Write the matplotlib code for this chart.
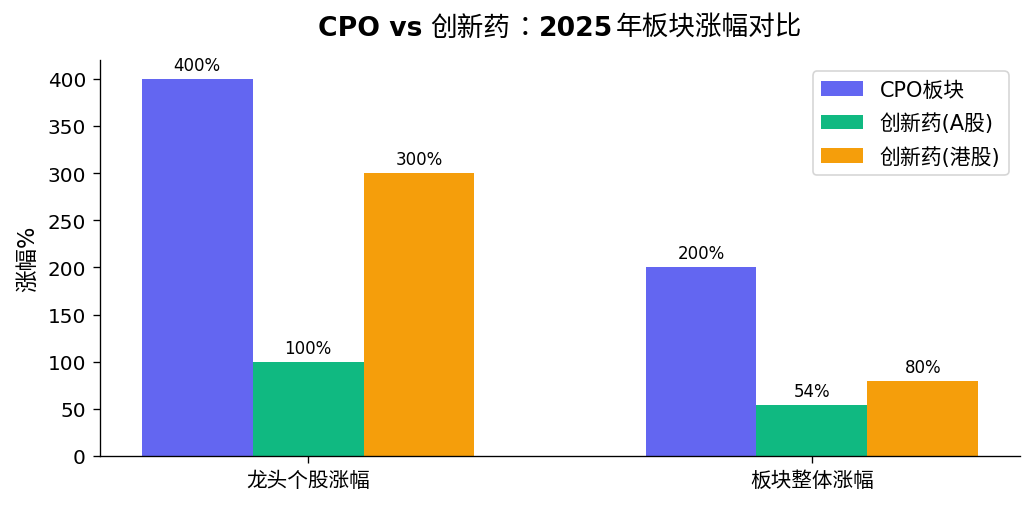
import matplotlib
matplotlib.use("Agg")
import matplotlib.pyplot as plt
import numpy as np

plt.rcParams['font.family'] = ['DejaVu Sans', 'Noto Sans CJK SC']
plt.rcParams['font.size'] = 12

categories = ['龙头个股涨幅', '板块整体涨幅']
series_names = ['CPO板块', '创新药(A股)', '创新药(港股)']
cpo = [400, 200]
a_share = [100, 54]
hk_share = [300, 80]
colors = ['#6366F1', '#10B981', '#F59E0B']
title_parts = [('CPO vs', 'bold'), ('创新药', 'normal'), ('：', 'colon'),
               ('2025', 'bold'), ('年板块涨幅对比', 'normal')]

DPI = 120
fig = plt.figure(figsize=(1033 / DPI, 509 / DPI), dpi=DPI)
ax = fig.add_axes([100 / 1033, 52 / 509, 920 / 1033, 396 / 509])

x = np.arange(len(categories))
w = 0.22
for i, (vals, name, c) in enumerate(zip([cpo, a_share, hk_share], series_names, colors)):
    bars = ax.bar(x + (i - 1) * w, vals, w, label=name, color=c)
    for b, v in zip(bars, vals):
        ax.annotate(f'{v}%', (b.get_x() + b.get_width() / 2, v), xytext=(0, 3),
                    textcoords='offset points', ha='center', va='bottom', fontsize=10)

ax.set_xticks(x)
ax.set_xticklabels(categories, fontsize=12.4)
ax.tick_params(axis='both', length=4.2, pad=4.2)
ax.tick_params(axis='y', labelsize=12)
ax.set_ylim(0, 420)
ax.set_ylabel('涨幅%', fontsize=13.5, labelpad=5)
ax.spines['top'].set_visible(False)
ax.spines['right'].set_visible(False)
ax.legend(loc='upper right', fontsize=12.5, labelspacing=0.62, borderaxespad=0.55)

# Title built from pieces: Latin bold, CJK regular
renderer = fig.canvas.get_renderer()
texts = []
for s, wt in title_parts:
    if wt == 'bold':
        fam, weight = ['DejaVu Sans'], 'bold'
    elif wt == 'colon':
        fam, weight = ['Noto Sans CJK TC', 'DejaVu Sans'], 'normal'
    else:
        fam, weight = ['Noto Sans CJK SC', 'DejaVu Sans'], 'normal'
    t = fig.text(0, 0, s, fontsize=16, fontweight=weight, family=fam,
                 ha='left', va='baseline', transform=None)
    texts.append(t)
gaps = [8, 1, 1, 2, 0]
widths = [t.get_window_extent(renderer).width for t in texts]
total = sum(widths) + sum(gaps[:-1])
ax_bb = ax.get_window_extent(renderer)
cx = (ax_bb.x0 + ax_bb.x1) / 2
xpos = cx - total / 2
base_y = 509 - 36
for t, wd, g in zip(texts, widths, gaps):
    t.set_position((xpos, base_y))
    xpos += wd + g

fig.savefig('out.png', dpi=DPI)
